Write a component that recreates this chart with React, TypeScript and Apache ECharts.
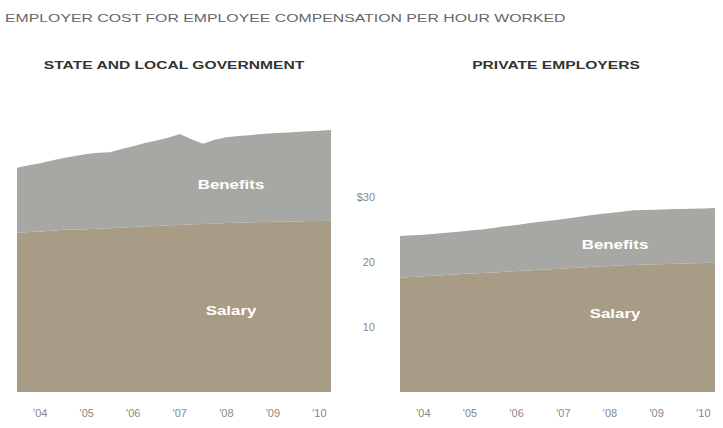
import React, { useEffect, useRef } from "react";
import * as echarts from "echarts";

const quarters = [
  "2003Q3", "2003Q4",
  "2004Q1", "2004Q2", "2004Q3", "2004Q4",
  "2005Q1", "2005Q2", "2005Q3", "2005Q4",
  "2006Q1", "2006Q2", "2006Q3", "2006Q4",
  "2007Q1", "2007Q2", "2007Q3", "2007Q4",
  "2008Q1", "2008Q2", "2008Q3", "2008Q4",
  "2009Q1", "2009Q2", "2009Q3", "2009Q4",
  "2010Q1", "2010Q2",
];

// State and local government, $ per hour worked
const govTotal = [
  34.5, 34.9, 35.2, 35.6, 36.0, 36.3, 36.6, 36.8, 36.9, 37.4, 37.8, 38.3, 38.7, 39.1,
  39.7, 38.9, 38.2, 38.8, 39.2, 39.4, 39.5, 39.7, 39.8, 39.9, 40.0, 40.1, 40.2, 40.3,
];
const govSalary = [
  24.5, 24.6, 24.7, 24.8, 24.95, 25.0, 25.05, 25.15, 25.2, 25.3, 25.4, 25.5, 25.55, 25.65,
  25.7, 25.8, 25.85, 25.9, 26.0, 26.05, 26.1, 26.15, 26.2, 26.2, 26.25, 26.3, 26.3, 26.35,
];

// Private employers, $ per hour worked
const privTotal = [
  24.0, 24.1, 24.2, 24.35, 24.5, 24.65, 24.85, 25.0, 25.25, 25.5, 25.7, 25.95, 26.2, 26.4,
  26.6, 26.85, 27.1, 27.35, 27.55, 27.75, 27.95, 28.0, 28.05, 28.1, 28.15, 28.2, 28.25, 28.3,
];
const privSalary = [
  17.6, 17.7, 17.8, 17.9, 18.0, 18.1, 18.25, 18.3, 18.4, 18.5, 18.6, 18.7, 18.8, 18.9,
  19.0, 19.1, 19.2, 19.3, 19.4, 19.5, 19.55, 19.6, 19.65, 19.7, 19.75, 19.8, 19.85, 19.9,
];

const yTicks = ["", "10", "20", "$30", ""];

const TITLE = "EMPLOYER COST FOR EMPLOYEE COMPENSATION PER HOUR WORKED";
const PANEL_TITLES = ["STATE AND LOCAL GOVERNMENT", "PRIVATE EMPLOYERS"];

const SALARY_COLOR = "#a99c87";
const BENEFITS_COLOR = "#a7a7a3";
const FONT = "Liberation Sans, Arial, sans-serif";

export default function App() {
  const ref = useRef<HTMLDivElement>(null);

  useEffect(() => {
    if (!ref.current) return;
    const chart = echarts.init(ref.current, null, { renderer: "svg" });

    const govBenefits = govTotal.map((t, i) => +(t - govSalary[i]).toFixed(2));
    const privBenefits = privTotal.map((t, i) => +(t - privSalary[i]).toFixed(2));

    const xAxisBase = (gridIndex: number) => ({
      type: "category" as const,
      gridIndex,
      data: quarters,
      boundaryGap: false,
      axisLine: { show: false },
      axisTick: { show: false },
      splitLine: { show: false },
      axisLabel: {
        interval: (index: number) => index % 4 === 2,
        formatter: (v: string) => "'" + v.slice(2, 4),
        color: "#888888",
        fontSize: 11,
        fontFamily: FONT,
        margin: 15,
      },
    });

    const yAxisBase = (gridIndex: number, showLabels: boolean) => ({
      type: "value" as const,
      gridIndex,
      min: 0,
      max: 42,
      interval: 10,
      axisLine: { show: false },
      axisTick: { show: false },
      splitLine: { show: false },
      axisLabel: {
        show: showLabels,
        formatter: (v: number) => yTicks[Math.round(v / 10)] ?? "",
        color: "#888888",
        fontSize: 11,
        fontFamily: FONT,
        margin: 25,
      },
    });

    const areaSeries = (name: string, data: number[], idx: number, color: string, stack: string) => ({
      name,
      type: "line" as const,
      xAxisIndex: idx,
      yAxisIndex: idx,
      stack,
      data,
      symbol: "none",
      lineStyle: { width: 0 },
      areaStyle: { color, opacity: 1 },
      emphasis: { disabled: true },
    });

    const label = (text: string, x: number, y: number) => ({
      type: "text",
      x,
      y,
      scaleX: 1.3,
      z: 100,
      style: {
        text,
        x: 0,
        y: 0,
        fill: "#ffffff",
        font: `bold 13px ${FONT}`,
        textAlign: "center",
        textVerticalAlign: "middle",
      },
    });

    chart.setOption({
      animation: false,
      backgroundColor: "#ffffff",
      grid: [
        { left: 17, width: 314, top: 119, height: 273 },
        { left: 400, width: 315, top: 119, height: 273 },
      ],
      xAxis: [xAxisBase(0), xAxisBase(1)],
      yAxis: [yAxisBase(0, false), yAxisBase(1, true)],
      series: [
        areaSeries("Salary", govSalary, 0, SALARY_COLOR, "gov"),
        areaSeries("Benefits", govBenefits, 0, BENEFITS_COLOR, "gov"),
        areaSeries("Salary", privSalary, 1, SALARY_COLOR, "priv"),
        areaSeries("Benefits", privBenefits, 1, BENEFITS_COLOR, "priv"),
      ],
      graphic: [
        {
          type: "text",
          x: 5,
          y: 18,
          scaleX: 1.44,
          style: {
            text: TITLE,
            x: 0,
            y: 0,
            fill: "#666666",
            font: `11px ${FONT}`,
            textAlign: "left",
            textVerticalAlign: "middle",
          },
        },
        {
          type: "text",
          x: 174,
          y: 65,
          scaleX: 1.42,
          style: {
            text: PANEL_TITLES[0],
            x: 0,
            y: 0,
            fill: "#333333",
            font: `bold 11px ${FONT}`,
            textAlign: "center",
            textVerticalAlign: "middle",
          },
        },
        {
          type: "text",
          x: 556,
          y: 65,
          scaleX: 1.42,
          style: {
            text: PANEL_TITLES[1],
            x: 0,
            y: 0,
            fill: "#333333",
            font: `bold 11px ${FONT}`,
            textAlign: "center",
            textVerticalAlign: "middle",
          },
        },
        label("Benefits", 231, 184),
        label("Salary", 231, 310),
        label("Benefits", 615, 244),
        label("Salary", 615, 313),
      ],
    });

    return () => chart.dispose();
  }, []);

  return (
    <div
      ref={ref}
      style={{ position: "fixed", left: 0, top: 0, width: 723, height: 428, background: "#fff" }}
    />
  );
}
